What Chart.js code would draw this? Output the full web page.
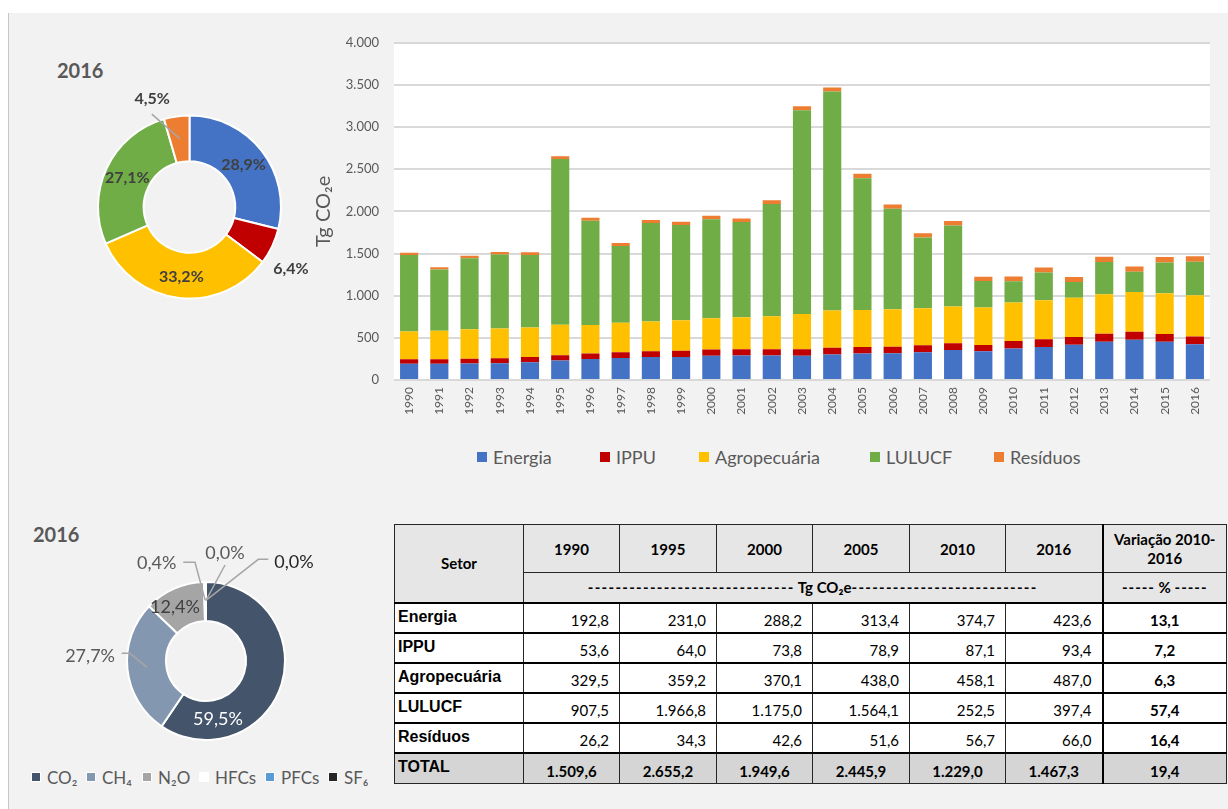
<!DOCTYPE html>
<html><head><meta charset="utf-8">
<script src="https://cdn.jsdelivr.net/npm/chart.js@4.4.0/dist/chart.umd.min.js"></script>
<style>
html,body{margin:0;padding:0;width:1228px;height:809px;overflow:hidden;background:#fff;font-family:Lato,sans-serif;}
#bg{position:absolute;left:8px;top:13px;width:1220px;height:796px;background:#f2f2f2;border-left:1px solid #c6c6c6;}
canvas{position:absolute;}
.abs{position:absolute;white-space:nowrap;}
.ttl{font-weight:bold;font-size:20px;color:#595959;line-height:24px;}
.leg{position:absolute;display:flex;align-items:center;white-space:nowrap;color:#595959;}
.leg i{display:inline-block;box-sizing:border-box;}
#tbl{position:absolute;left:394px;top:524px;border-collapse:collapse;table-layout:fixed;width:832px;font-family:Lato,sans-serif;font-size:15px;color:#000;}
#tbl td,#tbl th{border:1px solid #262626;padding:0;overflow:hidden;white-space:nowrap;}
#tbl thead th{background:#e7e6e6;font-weight:bold;text-align:center;vertical-align:middle;}
#tbl tbody td{background:#fff;border-top:2px solid #000;}
#tbl td.lab{font-family:'Liberation Sans',Arial,sans-serif;font-weight:bold;font-size:16px;text-align:left;vertical-align:top;padding:4px 0 0 3px;}
#tbl td.num{text-align:right;padding-right:10px;vertical-align:bottom;padding-bottom:3px;}
#tbl td.var{text-align:center;font-weight:bold;vertical-align:bottom;padding-bottom:3px;}
#tbl tr.total td{background:#d5d5d5;font-weight:bold;text-align:center;}
#tbl .vcol{border-left:2px solid #000 !important;}
.dash{letter-spacing:1.3px;}
</style></head>
<body>
<div id="bg"></div>
<div class="abs ttl" style="left:57px;top:58px;">2016</div>
<div class="abs ttl" style="left:33px;top:522px;">2016</div>
<canvas id="pie1" width="300" height="280" style="left:20px;top:40px;"></canvas>
<canvas id="bars" width="920" height="410" style="left:300px;top:20px;"></canvas>
<canvas id="pie2" width="340" height="240" style="left:20px;top:520px;"></canvas>
<div id="barLegend"></div>
<div id="gasLegend"></div>
<table id="tbl"></table>
<script>
// ---------------- DATA ----------------
const years = ['1990','1991','1992','1993','1994','1995','1996','1997','1998','1999','2000','2001','2002','2003','2004','2005','2006','2007','2008','2009','2010','2011','2012','2013','2014','2015','2016'];
const energia  = [192.8,194,197,200,210,231.0,248,262,272,274,288.2,292,290,288,302,313.4,316,330,355,340,374.7,392,418,455,478,455,423.6];
const ippu     = [53.6,52,55,58,62,64.0,66,68,68,72,73.8,74,75,78,80,78.9,78,82,80,76,87.1,90,92,95,93,90,93.4];
const agro     = [329.5,338,350,352,352,359.2,337,348,354,364,370.1,379,392,418,442,438.0,445,439,436,443,458.1,464,467,466,473,483,487.0];
const lulucf   = [907.5,727,843,880,860,1966.8,1239,912,1167,1128,1175.0,1128,1331,2416,2597,1564.1,1192,839,963,314,252.5,330,185,385,240,366,397.4];
const residuos = [26.2,27,28,29,30,34.3,35,36,37,39,42.6,43,44,46,48,51.6,52,50,51,53,56.7,58,60,62,63,64,66.0];
const sectorNames = ['Energia','IPPU','Agropecuária','LULUCF','Resíduos'];
const yTicks = [0,500,1000,1500,2000,2500,3000,3500,4000];

const sectorShare2016 = [28.9,6.4,33.2,27.1,4.5];
const gasNames = ['CO₂','CH₄','N₂O','HFCs','PFCs','SF₆'];
const gasShare2016 = [59.5,27.7,12.4,0.4,0.0,0.0];

const tableYears = ['1990','1995','2000','2005','2010','2016'];
const tEnergia  = [192.8,231.0,288.2,313.4,374.7,423.6];
const tIppu     = [53.6,64.0,73.8,78.9,87.1,93.4];
const tAgro     = [329.5,359.2,370.1,438.0,458.1,487.0];
const tLulucf   = [907.5,1966.8,1175.0,1564.1,252.5,397.4];
const tResiduos = [26.2,34.3,42.6,51.6,56.7,66.0];
const tTotal    = [1509.6,2655.2,1949.6,2445.9,1229.0,1467.3];
const tVariacao = [13.1,7.2,6.3,57.4,16.4,19.4];

// ---------------- STYLES ----------------
const sectorColors = ['#4472C4','#C00000','#FFC000','#70AD47','#ED7D31'];
const gasColors = ['#44546A','#8497B0','#A5A5A5','#FFFFFF','#5B9BD5','#262626'];

function thousands(v){return String(v).replace(/\B(?=(\d{3})+(?!\d))/g,'.');}
function fmt1(v){const s=v.toFixed(1).split('.');return thousands(s[0])+','+s[1];}
function fmtPct(v){return v.toFixed(1).replace('.',',')+'%';}

const labelPlugin = {
  id:'sliceLabels',
  afterDatasetsDraw(chart, args, o){
    if(!o || !o.specs) return;
    const ctx = chart.ctx;
    const ds = chart.data.datasets[0];
    const meta = chart.getDatasetMeta(0);
    meta.data.forEach((arc,i)=>{
      const s = o.specs[i]; if(!s) return;
      const p = arc.getProps(['x','y','startAngle','endAngle','innerRadius','outerRadius'], true);
      const mid = (p.startAngle+p.endAngle)/2;
      const at = (dA,t)=>{const a = mid + dA*Math.PI/180; const r = p.innerRadius + t*(p.outerRadius-p.innerRadius); return [p.x+Math.cos(a)*r, p.y+Math.sin(a)*r];};
      ctx.save();
      if(s.line){
        ctx.strokeStyle = o.lineColor; ctx.lineWidth = o.lineWidth;
        ctx.beginPath();
        const st = at(s.line.dA||0, s.line.t);
        ctx.moveTo(st[0], st[1]);
        s.line.pts.forEach(q=>{ const pt = q.polar ? at(q.dA, q.t) : [p.x+q.dx, p.y+q.dy]; ctx.lineTo(pt[0],pt[1]); });
        ctx.stroke();
      }
      const pos = s.polar ? at(s.dA, s.t) : [p.x+s.dx, p.y+s.dy];
      ctx.font = o.font; ctx.fillStyle = s.color || o.color;
      ctx.textAlign = s.align || 'center'; ctx.textBaseline='middle';
      ctx.fillText(fmtPct(ds.data[i]), pos[0], pos[1]);
      ctx.restore();
    });
  }
};

const plotBg = {id:'plotBg', beforeDraw(chart){const {ctx, chartArea:a}=chart; ctx.save(); ctx.fillStyle='#ffffff'; ctx.fillRect(a.left, a.top, a.right-a.left, a.bottom-a.top); ctx.restore();}};

function build(){
  Chart.defaults.font.family = 'Lato';
  Chart.defaults.animation = false;
  Chart.defaults.plugins.legend.display = false;
  Chart.defaults.plugins.tooltip.enabled = false;

  // Pie 1: sectors 2016
  new Chart(document.getElementById('pie1'), {
    type:'doughnut',
    data:{labels:sectorNames, datasets:[{data:sectorShare2016, backgroundColor:sectorColors, borderColor:'#ffffff', borderWidth:2}]},
    options:{responsive:false, devicePixelRatio:1, radius:91.5, cutout:47,
      layout:{padding:{left:74.5,right:35.5,top:72,bottom:18}},
      plugins:{sliceLabels:{font:'bold 16px Lato', color:'#404040', lineColor:'#a6a6a6', lineWidth:1.5,
        specs:[{polar:1,dA:0,t:0.5},{polar:1,dA:6,t:1.6},{polar:1,dA:0,t:0.53},{polar:1,dA:0,t:0.5},
               {polar:1,dA:-11,t:1.5,line:{t:0.51,pts:[{polar:1,dA:-14,t:1.19}]}}]}}},
    plugins:[labelPlugin]
  });

  // Pie 2: gases 2016
  new Chart(document.getElementById('pie2'), {
    type:'doughnut',
    data:{labels:gasNames, datasets:[{data:gasShare2016, backgroundColor:gasColors, borderColor:'#ffffff', borderWidth:2}]},
    options:{responsive:false, devicePixelRatio:1, radius:79, cutout:42.5,
      layout:{padding:{left:101,right:69,top:56,bottom:14}},
      plugins:{sliceLabels:{font:'18px Lato', color:'#595959', lineColor:'#a6a6a6', lineWidth:1.5,
        specs:[
          {dx:12,dy:58,color:'#ffffff'},
          {dx:-91,dy:-5,align:'right',line:{t:0.5,pts:[{dx:-76,dy:-7.7},{dx:-84.3,dy:-7.7}]}},
          {dx:-31,dy:-54,color:'#404040'},
          {dx:-49.3,dy:-98,line:{t:0.53,pts:[{dx:-11,dy:-98.7},{dx:-22.7,dy:-98.7}]}},
          {dx:19,dy:-108,line:{t:0.53,pts:[{dx:19,dy:-96}]}},
          {dx:88,dy:-99,color:'#262626',line:{t:0.53,pts:[{dx:52.3,dy:-101.7},{dx:62.3,dy:-101.7}]}}
        ]}}},
    plugins:[labelPlugin]
  });

  // Stacked bars
  const series = [energia, ippu, agro, lulucf, residuos];
  new Chart(document.getElementById('bars'), {
    type:'bar',
    data:{labels:years, datasets:series.map((d,i)=>({label:sectorNames[i], data:d, backgroundColor:sectorColors[i], barPercentage:0.6, categoryPercentage:1, borderWidth:0}))},
    options:{responsive:false, devicePixelRatio:1,
      layout:{padding:{top:21,right:10,left:0,bottom:0}},
      scales:{
        x:{stacked:true, grid:{display:false, drawTicks:false}, border:{display:false},
           ticks:{autoSkip:false, minRotation:90, maxRotation:90, padding:7, color:'#595959', font:{size:12}},
           afterFit(s){s.height=50;}},
        y:{stacked:true, min:0, max:4000, grid:{color:'#d9d9d9', lineWidth:2, drawTicks:false}, border:{display:false},
           afterBuildTicks(s){s.ticks = yTicks.map(v=>({value:v}));},
           ticks:{padding:15, color:'#595959', font:{size:13}, callback:v=>thousands(v)},
           title:{display:true, text:'Tg CO₂e', color:'#595959', font:{size:20}, padding:{top:12,bottom:0}},
           afterFit(s){s.width=94;}}
      }},
    plugins:[plotBg]
  });

  // Bar legend
  const barLegX = [477,600,699,870,994];
  const bl = document.getElementById('barLegend');
  sectorNames.forEach((n,i)=>{
    const d = document.createElement('div'); d.className='leg';
    d.style.left = barLegX[i]+'px'; d.style.top='446px'; d.style.height='22px'; d.style.fontSize='18px';
    d.innerHTML = '<i style="width:10px;height:10px;background:'+sectorColors[i]+';margin-right:6px"></i>'+n;
    bl.appendChild(d);
  });
  // Gas legend
  const gasLegX = [31,86,142,199,265,328];
  const gl = document.getElementById('gasLegend');
  gasNames.forEach((n,i)=>{
    const d = document.createElement('div'); d.className='leg';
    d.style.left = gasLegX[i]+'px'; d.style.top='766px'; d.style.height='22px'; d.style.fontSize='17px';
    d.innerHTML = '<i style="width:10px;height:10px;background:'+gasColors[i]+';border:1px solid #ffffff;margin-right:6px"></i>'+n;
    gl.appendChild(d);
  });

  // Table
  const rows = [['Energia',tEnergia],['IPPU',tIppu],['Agropecuária',tAgro],['LULUCF',tLulucf],['Resíduos',tResiduos]];
  let h = '<colgroup><col style="width:129px"><col style="width:96px"><col style="width:97px"><col style="width:96px"><col style="width:97px"><col style="width:96px"><col style="width:97px"><col style="width:124px"></colgroup>';
  h += '<thead><tr style="height:48px"><th rowspan="2" style="font-size:15px">Setor</th>';
  tableYears.forEach(y=>{h+='<th>'+y+'</th>';});
  h += '<th class="vcol" style="line-height:19px">Variação 2010-<br>2016</th></tr>';
  h += '<tr style="height:30px"><th colspan="6" style="font-size:15px"><span class="dash">------------------------------</span> Tg CO₂e<span class="dash">---------------------------</span></th><th class="vcol" style="font-size:15px"><span style="letter-spacing:1px">-----</span> % <span style="letter-spacing:1px">-----</span></th></tr></thead><tbody>';
  rows.forEach((r,ri)=>{
    h += '<tr style="height:30px"><td class="lab">'+r[0]+'</td>';
    r[1].forEach(v=>{h+='<td class="num">'+fmt1(v)+'</td>';});
    h += '<td class="var vcol">'+fmt1(tVariacao[ri])+'</td></tr>';
  });
  h += '<tr class="total" style="height:31px"><td class="lab" style="text-align:left">TOTAL</td>';
  tTotal.forEach(v=>{h+='<td style="vertical-align:bottom;padding-bottom:3px">'+fmt1(v)+'</td>';});
  h += '<td class="vcol" style="vertical-align:bottom;padding-bottom:3px">'+fmt1(tVariacao[5])+'</td></tr></tbody>';
  document.getElementById('tbl').innerHTML = h;
}

Promise.all([document.fonts.load('16px Lato'),document.fonts.load('bold 16px Lato'),document.fonts.load('bold 16px "Liberation Sans"')]).then(build, build);
</script>
</body></html>
